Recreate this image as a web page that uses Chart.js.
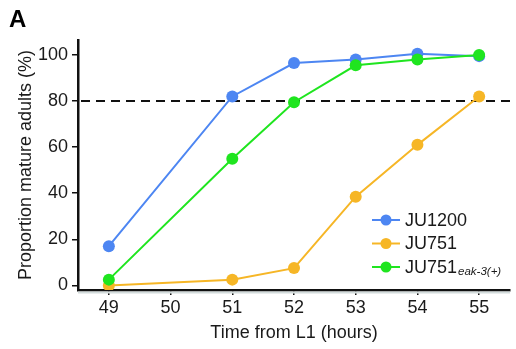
<!DOCTYPE html>
<html>
<head>
<meta charset="utf-8">
<script src="https://cdn.jsdelivr.net/npm/chart.js@4"></script>
<style>
  html, body { margin: 0; padding: 0; background: #fff; }
  #wrap { width: 516px; height: 349px; position: relative; }
</style>
</head>
<body>
<div id="wrap"><canvas id="chart"></canvas></div>
<script>
// values
var hours = [49, 50, 51, 52, 53, 54, 55];
var sampleHours = [49, 51, 52, 53, 54, 55];
var ju1200 = [17, 82, 96.5, 98, 100.5, 99.5];
var ju751 = [0, 2.5, 7.5, 38.5, 61, 82];
var ju751Rescue = [2.5, 55, 79.5, 95.5, 98, 100];
var yTicks = [0, 20, 40, 60, 80, 100];
var threshold = 80;

var seriesNames = ['JU1200', 'JU751', 'JU751'];
var seriesSubs = ['', '', 'eak-3(+)'];
var seriesColors = ['#4d86f2', '#f6b626', '#1fe51f'];

var FONT = '"Liberation Sans", Arial, sans-serif';

function pairs(values) {
  return values.map(function (v, i) { return {x: sampleHours[i], y: v}; });
}

function series(i, values, order) {
  return {
    label: seriesNames[i] + seriesSubs[i],
    data: pairs(values),
    borderColor: seriesColors[i],
    backgroundColor: seriesColors[i],
    borderWidth: 2,
    pointRadius: 6,
    pointHoverRadius: 6,
    pointBorderWidth: 0,
    order: order
  };
}

// dashed 80% line, panel letter and the legend with its subscript
var extras = {
  id: 'extras',
  beforeDatasetsDraw: function (chart) {
    var ctx = chart.ctx;
    var area = chart.chartArea;
    var y = chart.scales.y.getPixelForValue(threshold);
    ctx.save();
    // faint shadow under the x axis
    ctx.strokeStyle = '#d3dcdc';
    ctx.lineWidth = 2;
    ctx.beginPath();
    ctx.moveTo(area.left, area.bottom + 2.5);
    ctx.lineTo(area.right, area.bottom + 2.5);
    ctx.stroke();

    ctx.strokeStyle = '#111';
    ctx.lineWidth = 2;
    ctx.setLineDash([9, 6]);
    ctx.beginPath();
    ctx.moveTo(area.left + 3, y);
    ctx.lineTo(chart.width, y);
    ctx.stroke();
    ctx.restore();
  },
  afterDraw: function (chart) {
    var ctx = chart.ctx;
    ctx.save();
    ctx.fillStyle = '#000';
    ctx.font = 'bold 24px ' + FONT;
    ctx.textBaseline = 'alphabetic';
    ctx.fillText('A', 9, 27);

    var rowY = [220, 243.5, 267];
    for (var i = 0; i < seriesNames.length; i++) {
      var y = rowY[i];
      ctx.strokeStyle = seriesColors[i];
      ctx.fillStyle = seriesColors[i];
      ctx.lineWidth = 2;
      ctx.beginPath();
      ctx.moveTo(372, y);
      ctx.lineTo(400, y);
      ctx.stroke();
      ctx.beginPath();
      ctx.arc(386, y, 5.5, 0, Math.PI * 2);
      ctx.fill();

      ctx.fillStyle = '#1a1a1a';
      ctx.font = '18px ' + FONT;
      ctx.textBaseline = 'middle';
      ctx.fillText(seriesNames[i], 405, y + 1);
      if (seriesSubs[i]) {
        var w = ctx.measureText(seriesNames[i]).width;
        ctx.font = 'italic 11.5px ' + FONT;
        ctx.fillText(seriesSubs[i], 405 + w + 1, y + 5);
      }
    }
    ctx.restore();
  }
};

var ctx = document.getElementById('chart').getContext('2d');
var chart = new Chart(ctx, {
  type: 'line',
  data: {
    datasets: [
      series(0, ju1200, 1),
      series(1, ju751, 2),
      series(2, ju751Rescue, 0)
    ]
  },
  options: {
    responsive: true,
    maintainAspectRatio: false,
    animation: false,
    layout: { padding: { top: 40, right: 4, left: 0, bottom: 0 } },
    plugins: {
      legend: { display: false },
      tooltip: { enabled: false }
    },
    scales: {
      x: {
        type: 'linear',
        min: 48.5,
        max: 55.5,
        afterBuildTicks: function (scale) {
          scale.ticks = hours.map(function (v) { return {value: v}; });
        },
        afterFit: function (scale) { scale.height = 59; },
        grid: { drawOnChartArea: false, drawTicks: true, color: '#111', lineWidth: 1.5, tickLength: 5 },
        border: { color: '#111', width: 2.5 },
        ticks: { color: '#1a1a1a', font: { family: FONT, size: 18 }, padding: 2, maxRotation: 0 },
        title: {
          display: true,
          text: 'Time from L1 (hours)',
          color: '#1a1a1a',
          font: { family: FONT, size: 18 },
          padding: { top: 2, bottom: 5 }
        }
      },
      y: {
        min: -2,
        max: 106.5,
        afterBuildTicks: function (scale) {
          scale.ticks = yTicks.map(function (v) { return {value: v}; });
        },
        afterFit: function (scale) { scale.width = 78; },
        grid: { drawOnChartArea: false, drawTicks: true, color: '#111', lineWidth: 1.5, tickLength: 6 },
        border: { color: '#111', width: 2.5 },
        ticks: { color: '#1a1a1a', font: { family: FONT, size: 18 }, padding: 4 },
        title: {
          display: true,
          text: 'Proportion mature adults (%)',
          color: '#1a1a1a',
          font: { family: FONT, size: 18 },
          padding: { top: 15, bottom: 4 }
        }
      }
    }
  },
  plugins: [extras]
});
</script>
</body>
</html>
